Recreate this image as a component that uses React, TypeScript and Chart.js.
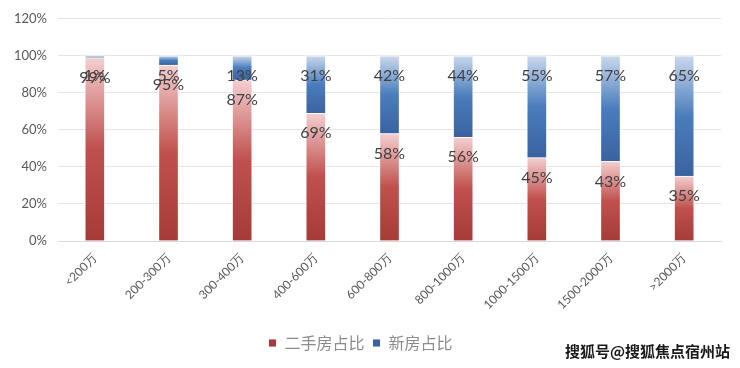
import React, { useEffect, useRef } from "react";
import { Chart, registerables } from "chart.js";

Chart.register(...registerables);

const categories = ["<200万", "200-300万", "300-400万", "400-600万", "600-800万", "800-1000万", "1000-1500万", "1500-2000万", ">2000万"];
const secondHand = [99, 95, 87, 69, 58, 56, 45, 43, 35];
const newHouse = [1, 5, 13, 31, 42, 44, 55, 57, 65];
const yTicks = [0, 20, 40, 60, 80, 100, 120];
const seriesNames = ["二手房占比", "新房占比"];

const redStops: [number, string][] = [[0, "#f4cfcf"], [0.5, "#c0504d"], [1, "#a53b38"]];
const blueStops: [number, string][] = [[0, "#c9d8ec"], [0.5, "#4a7dbd"], [1, "#3a62a0"]];

function gradientColor(stops: [number, string][], solid: string) {
  return (ctx: any) => {
    const chart = ctx.chart;
    if (ctx.type !== "data" || !chart.chartArea) return solid;
    const y = chart.scales.y;
    const i = ctx.dataIndex;
    const start = ctx.datasetIndex === 0 ? 0 : secondHand[i];
    const end = start + (ctx.datasetIndex === 0 ? secondHand[i] : newHouse[i]);
    const top = y.getPixelForValue(end);
    const bottom = y.getPixelForValue(start);
    if (!isFinite(top) || !isFinite(bottom) || top === bottom) return solid;
    const g = chart.ctx.createLinearGradient(0, top, 0, bottom);
    stops.forEach(([o, c]) => g.addColorStop(o, c));
    return g;
  };
}

const labelPlugin = {
  id: "barLabels",
  afterDatasetsDraw(chart: any) {
    const ctx = chart.ctx;
    ctx.save();
    ctx.font = "16px Lato";
    ctx.fillStyle = "#404040";
    ctx.textAlign = "center";
    ctx.textBaseline = "middle";
    chart.data.datasets.forEach((ds: any, di: number) => {
      const meta = chart.getDatasetMeta(di);
      meta.data.forEach((el: any, i: number) => {
        ctx.fillText(ds.data[i] + "%", el.x, el.y + 20);
      });
    });
    ctx.restore();
  },
};

export default function App() {
  const ref = useRef<HTMLCanvasElement>(null);
  useEffect(() => {
    if (!ref.current) return;
    const chart = new Chart(ref.current, {
      type: "bar",
      data: {
        labels: categories,
        datasets: [
          {
            label: seriesNames[0],
            data: secondHand,
            backgroundColor: gradientColor(redStops, "#c0504d"),
            borderColor: "rgba(255,255,255,0.9)",
            borderWidth: 1,
            barThickness: 20,
          },
          {
            label: seriesNames[1],
            data: newHouse,
            backgroundColor: gradientColor(blueStops, "#4a7dbd"),
            borderColor: "rgba(255,255,255,0.9)",
            borderWidth: 1,
            barThickness: 20,
          },
        ],
      },
      options: {
        responsive: false,
        animation: false,
        layout: { padding: { top: 12, right: 19, left: 0, bottom: 7 } },
        plugins: {
          legend: {
            position: "bottom",
            labels: {
              boxWidth: 8,
              boxHeight: 8,
              padding: 8,
              color: "#8c8c8c",
              font: { size: 16, family: "'Noto Sans CJK SC'" },
            },
          },
          tooltip: { enabled: false },
        },
        scales: {
          x: {
            stacked: true,
            grid: { display: false },
            border: { color: "#d9d9d9" },
            ticks: {
              minRotation: 45,
              maxRotation: 45,
              color: "#595959",
              font: { size: 12, family: "Lato" },
              padding: 2,
            },
            afterFit: (axis: any) => {
              axis.height = 86;
            },
          },
          y: {
            stacked: true,
            min: 0,
            max: 120,
            afterBuildTicks: (axis: any) => {
              axis.ticks = yTicks.map((v) => ({ value: v }));
            },
            grid: { color: "#e6e6e6", drawTicks: false },
            border: { display: false },
            ticks: {
              color: "#595959",
              font: { size: 13, family: "Lato" },
              padding: 11,
              callback: (v: any) => v + "%",
            },
            afterFit: (axis: any) => {
              axis.width = 58;
            },
          },
        },
      },
      plugins: [labelPlugin],
    });
    return () => chart.destroy();
  }, []);
  return (
    <div style={{ position: "fixed", left: 0, top: 0, width: 740, height: 368, background: "#fff" }}>
      <canvas ref={ref} width={740} height={368} style={{ display: "block" }} />
      <div
        style={{
          position: "absolute",
          left: 565,
          top: 341,
          fontFamily: "'Noto Sans CJK SC'",
          fontWeight: 700,
          fontSize: 15,
          color: "#1a1a1a",
          textShadow: "0 0 3px #fff, 0 0 3px #fff",
          whiteSpace: "nowrap",
          lineHeight: "20px",
        }}
      >
        搜狐号@搜狐焦点宿州站
      </div>
    </div>
  );
}
